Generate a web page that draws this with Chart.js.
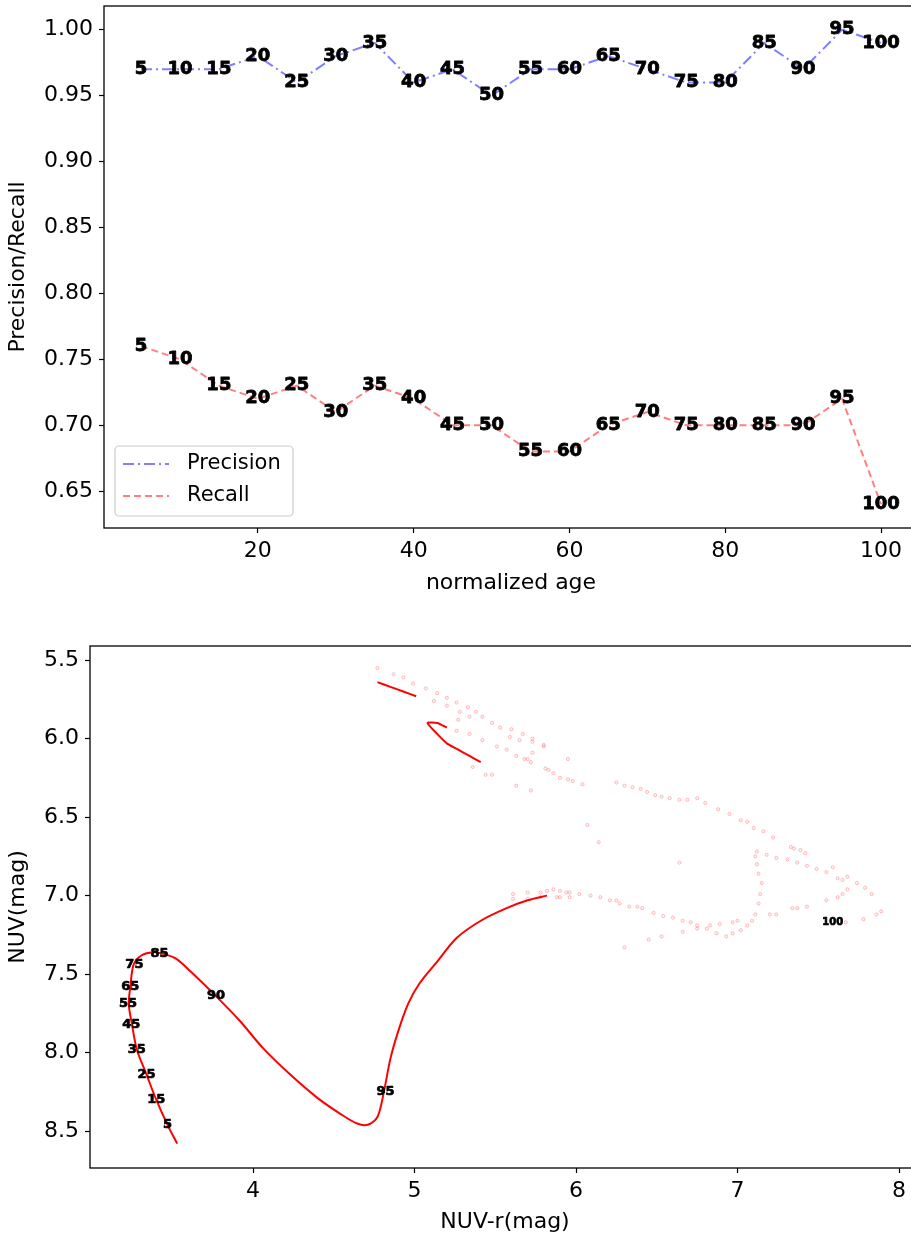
<!DOCTYPE html>
<html>
<head>
<meta charset="utf-8">
<script src="https://cdn.jsdelivr.net/npm/chart.js@4.4.0/dist/chart.umd.min.js"></script>
<style>
body { margin: 0; background: #fff; overflow: hidden; }
.wrap { position: absolute; left: 0; width: 911px; overflow: hidden; }
</style>
</head>
<body>
<div class="wrap" style="top:0;height:600px"><canvas id="prChart" width="930" height="600"></canvas></div>
<div class="wrap" style="top:620px;height:616px"><canvas id="cmdChart" width="930" height="616"></canvas></div>
<script>
"use strict";

// top panel: precision / recall per normalized age
var ages = [5, 10, 15, 20, 25, 30, 35, 40, 45, 50, 55, 60, 65, 70, 75, 80, 85, 90, 95, 100];
var precision = [0.97, 0.97, 0.97, 0.98, 0.96, 0.98, 0.99, 0.96, 0.97, 0.95, 0.97, 0.97, 0.98, 0.97, 0.96, 0.96, 0.99, 0.97, 1.00, 0.99];
var recall = [0.76, 0.75, 0.73, 0.72, 0.73, 0.71, 0.73, 0.72, 0.70, 0.70, 0.68, 0.68, 0.70, 0.71, 0.70, 0.70, 0.70, 0.70, 0.72, 0.64];
var ageTicks = [20, 40, 60, 80, 100];
var prTicks = [0.65, 0.70, 0.75, 0.80, 0.85, 0.90, 0.95, 1.00];

// bottom panel: track in NUV-r / NUV
var trackX = [3.53, 3.47, 3.40, 3.34, 3.28, 3.25, 3.23, 3.24, 3.26, 3.31, 3.38, 3.44, 3.52, 3.61, 3.77, 3.92, 4.06, 4.23, 4.40, 4.54, 4.64, 4.71, 4.77, 4.81, 4.85, 4.90, 4.96, 5.03, 5.14, 5.26, 5.41, 5.57, 5.70, 5.82];
var trackY = [8.58, 8.46, 8.30, 8.14, 7.98, 7.82, 7.69, 7.58, 7.44, 7.38, 7.36, 7.37, 7.40, 7.48, 7.64, 7.80, 7.97, 8.14, 8.29, 8.39, 8.45, 8.46, 8.41, 8.25, 8.04, 7.86, 7.69, 7.56, 7.42, 7.27, 7.16, 7.08, 7.03, 7.00];
var topSegX = [4.77, 4.85, 4.93, 5.01];
var topSegY = [5.64, 5.67, 5.70, 5.73];
var loopX = [5.20, 5.14, 5.08, 5.14, 5.20, 5.27, 5.34, 5.41];
var loopY = [5.93, 5.90, 5.90, 5.97, 6.03, 6.07, 6.11, 6.15];
var fieldX = [4.77, 4.87, 4.93, 4.99, 5.07, 5.14, 5.20, 5.26, 5.33, 5.38, 5.42, 5.48, 5.53, 5.60, 5.67, 5.73, 5.80,
  5.12, 5.20, 5.28, 5.34, 5.59, 5.65, 5.73, 5.80, 5.73, 5.63, 5.68, 5.72, 5.95, 5.81, 5.83, 5.44, 5.48, 5.63, 5.72, 6.07, 6.14, 6.64, 5.27, 5.36,
  5.26, 5.34, 5.42, 5.51, 5.57, 5.70, 5.86, 5.90, 5.95, 5.98, 6.04,
  6.25, 6.30, 6.35, 6.40, 6.44, 6.49, 6.53, 6.58, 6.64, 6.69, 6.75, 6.80, 6.88, 6.95, 7.02, 7.06, 7.10, 7.16, 7.22, 7.33, 7.35, 7.39, 7.42, 7.59, 7.68, 7.74, 7.79, 7.83, 7.89, 7.86, 7.78, 7.67,
  5.78, 5.82, 5.90, 5.96, 5.90, 5.96, 6.02, 6.09, 6.15, 6.21, 6.27, 6.33, 6.38, 6.41, 6.48, 6.54, 6.60, 6.66, 6.71, 6.75, 6.81, 6.87, 6.93,
  6.97, 7.02, 7.06, 7.09, 7.11, 7.13, 7.14, 7.15, 7.13, 7.12, 7.11, 7.12,
  7.18, 7.24, 7.31, 7.37, 7.43, 7.49, 7.55, 7.62, 7.65, 7.68, 7.65, 7.62, 7.55, 7.43, 7.37, 7.34, 7.24, 7.20, 7.00, 6.97, 6.89, 6.83, 6.75, 6.66, 6.53, 6.45, 6.30,
  5.61, 5.70, 5.86, 5.94, 6.25, 5.61, 5.70, 5.78, 5.88];
var fieldY = [5.55, 5.59, 5.61, 5.65, 5.68, 5.71, 5.74, 5.77, 5.80, 5.83, 5.86, 5.90, 5.93, 5.94, 5.97, 6.00, 6.04,
  5.76, 5.79, 5.83, 5.86, 5.99, 6.01, 6.02, 6.05, 6.09, 6.11, 6.13, 6.15, 6.13, 6.19, 6.20, 6.23, 6.23, 6.30, 6.33, 6.55, 6.66, 6.79, 5.88, 6.18,
  5.95, 5.97, 6.01, 6.05, 6.07, 6.13, 6.22, 6.25, 6.26, 6.27, 6.29,
  6.28, 6.30, 6.31, 6.32, 6.34, 6.36, 6.37, 6.38, 6.39, 6.39, 6.38, 6.41, 6.45, 6.48, 6.52, 6.53, 6.57, 6.59, 6.63, 6.69, 6.70, 6.71, 6.73, 6.82, 6.88, 6.92, 6.95, 6.99, 7.10, 7.12, 7.15, 7.17,
  6.98, 6.97, 6.97, 6.98, 7.01, 7.01, 6.99, 7.00, 7.01, 7.03, 7.05, 7.07, 7.07, 7.08, 7.11, 7.13, 7.14, 7.16, 7.17, 7.19, 7.21, 7.24, 7.26,
  7.24, 7.22, 7.19, 7.16, 7.12, 7.05, 6.99, 6.92, 6.86, 6.80, 6.75, 6.72,
  6.74, 6.76, 6.77, 6.79, 6.81, 6.83, 6.85, 6.89, 6.90, 6.96, 6.99, 7.01, 7.03, 7.07, 7.08, 7.08, 7.12, 7.12, 7.16, 7.17, 7.18, 7.19, 7.21, 7.23, 7.26, 7.28, 7.33,
  6.99, 6.98, 6.96, 6.98, 7.03, 7.02, 7.02, 7.01, 7.01];
var markX = [3.47, 3.40, 3.34, 3.28, 3.245, 3.225, 3.24, 3.265, 3.42, 3.77, 4.82, 7.59];
var markY = [8.46, 8.30, 8.14, 7.98, 7.82, 7.69, 7.58, 7.44, 7.37, 7.64, 8.25, 7.17];
var markText = ['5', '15', '25', '35', '45', '55', '65', '75', '85', '90', '95', '100'];
var nuvRTicks = [4, 5, 6, 7, 8];
var nuvTicks = [5.5, 6.0, 6.5, 7.0, 7.5, 8.0, 8.5];

Chart.defaults.font.family = '"DejaVu Sans"';
Chart.defaults.font.size = 22;
Chart.defaults.color = '#000';

var toPoints = function (xs, ys) {
  return xs.map(function (x, i) { return { x: x, y: ys[i] }; });
};
var fixedTicks = function (list) {
  return function (scale) {
    scale.ticks = list.map(function (v) { return { value: v }; });
  };
};

var framePlugin = {
  id: 'frame',
  afterDraw: function (chart) {
    var a = chart.chartArea, ctx = chart.ctx;
    ctx.save();
    ctx.strokeStyle = '#000';
    ctx.lineWidth = 1.3;
    ctx.strokeRect(a.left, a.top, a.right - a.left, a.bottom - a.top);
    ctx.restore();
  }
};

var pointTextPlugin = {
  id: 'pointText',
  afterDatasetsDraw: function (chart, args, opts) {
    var ctx = chart.ctx;
    chart.data.datasets.forEach(function (ds, i) {
      if (!ds.pointText) return;
      chart.getDatasetMeta(i).data.forEach(function (pt, j) {
        var txt = ds.pointText[j];
        var size = txt.length > 2 && opts.size3 ? opts.size3 : opts.size;
        ctx.save();
        ctx.font = 'bold ' + size + 'px "DejaVu Sans"';
        ctx.fillStyle = '#000';
        ctx.strokeStyle = '#000';
        ctx.lineWidth = opts.stroke;
        ctx.lineJoin = 'round';
        ctx.textAlign = 'center';
        ctx.textBaseline = 'middle';
        ctx.strokeText(txt, pt.x, pt.y);
        ctx.fillText(txt, pt.x, pt.y);
        ctx.restore();
      });
    });
  }
};

var legendPlugin = {
  id: 'boxLegend',
  afterDraw: function (chart) {
    var a = chart.chartArea, ctx = chart.ctx;
    var x = a.left + 11, y = a.bottom - 82, w = 178, h = 70;
    ctx.save();
    ctx.beginPath();
    ctx.roundRect(x, y, w, h, 4);
    ctx.fillStyle = 'rgba(255,255,255,0.8)';
    ctx.fill();
    ctx.strokeStyle = '#cccccc';
    ctx.lineWidth = 1.2;
    ctx.stroke();
    chart.data.datasets.forEach(function (ds, i) {
      var ly = y + 18 + i * 32;
      ctx.beginPath();
      ctx.setLineDash(ds.borderDash);
      ctx.strokeStyle = ds.borderColor;
      ctx.lineWidth = ds.borderWidth;
      ctx.moveTo(x + 8, ly);
      ctx.lineTo(x + 54, ly);
      ctx.stroke();
      ctx.setLineDash([]);
      ctx.fillStyle = '#000';
      ctx.font = '21px "DejaVu Sans"';
      ctx.textAlign = 'left';
      ctx.textBaseline = 'middle';
      ctx.fillText(ds.label, x + 72, ly);
    });
    ctx.restore();
  }
};

var axisStyle = function (width, height) {
  return {
    border: { display: false },
    grid: { drawOnChartArea: false, drawTicks: true, tickLength: 5, tickColor: '#000', tickWidth: 1.2 },
    afterFit: function (scale) {
      if (width) scale.width = width;
      if (height) scale.height = height;
      // don't reserve room for overhanging tick labels
      scale.paddingTop = 0;
      scale.paddingBottom = 0;
      scale.paddingLeft = 0;
      scale.paddingRight = 0;
    }
  };
};

// precision / recall
var xTop = axisStyle(0, 72);
xTop.type = 'linear';
xTop.min = 0.25;
xTop.max = 104.75;
xTop.afterBuildTicks = fixedTicks(ageTicks);
xTop.ticks = { padding: 5, maxRotation: 0 };
xTop.title = { display: true, text: 'normalized age', padding: { top: 0, bottom: 4 } };

var yTop = axisStyle(104, 0);
yTop.min = 0.622;
yTop.max = 1.018;
yTop.afterBuildTicks = fixedTicks(prTicks);
yTop.ticks = { padding: 6, callback: function (v) { return v.toFixed(2); } };
yTop.title = { display: true, text: 'Precision/Recall', padding: { top: 5, bottom: 0 } };

new Chart(document.getElementById('prChart'), {
  type: 'line',
  data: {
    datasets: [{
      label: 'Precision',
      data: toPoints(ages, precision),
      pointText: ages.map(String),
      borderColor: 'rgba(0,0,255,0.5)',
      borderDash: [11, 4, 2, 4],
      borderWidth: 2,
      pointRadius: 0,
      fill: false
    }, {
      label: 'Recall',
      data: toPoints(ages, recall),
      pointText: ages.map(String),
      borderColor: 'rgba(255,0,0,0.5)',
      borderDash: [7, 4],
      borderWidth: 2,
      pointRadius: 0,
      fill: false
    }]
  },
  options: {
    responsive: false,
    animation: false,
    layout: { padding: { top: 6, right: 12, left: 0, bottom: 0 } },
    scales: { x: xTop, y: yTop },
    plugins: { legend: { display: false }, tooltip: { enabled: false }, pointText: { size: 18, stroke: 0.8 } }
  },
  plugins: [framePlugin, pointTextPlugin, legendPlugin]
});

// colour-magnitude track
var xBot = axisStyle(0, 68);
xBot.type = 'linear';
xBot.min = 2.99;
xBot.max = 8.13;
xBot.afterBuildTicks = fixedTicks(nuvRTicks);
xBot.ticks = { padding: 5, maxRotation: 0 };
xBot.title = { display: true, text: 'NUV-r(mag)', padding: { top: 0, bottom: 1 } };

var yBot = axisStyle(90, 0);
yBot.reverse = true;
yBot.min = 5.41;
yBot.max = 8.735;
yBot.afterBuildTicks = fixedTicks(nuvTicks);
yBot.ticks = { padding: 6, callback: function (v) { return v.toFixed(1); } };
yBot.title = { display: true, text: 'NUV(mag)', padding: { top: 5, bottom: 0 } };

new Chart(document.getElementById('cmdChart'), {
  type: 'scatter',
  data: {
    datasets: [{
      data: toPoints(fieldX, fieldY),
      pointRadius: 1.6,
      pointBorderWidth: 0.8,
      pointBorderColor: 'rgba(255,0,0,0.3)',
      pointBackgroundColor: 'rgba(255,0,0,0.05)',
      showLine: false
    }, {
      data: toPoints(trackX, trackY),
      showLine: true,
      tension: 0.3,
      borderColor: '#ff0000',
      borderWidth: 2,
      pointRadius: 0
    }, {
      data: toPoints(topSegX, topSegY),
      showLine: true,
      tension: 0.3,
      borderColor: '#ff0000',
      borderWidth: 2,
      pointRadius: 0
    }, {
      data: toPoints(loopX, loopY),
      showLine: true,
      tension: 0.2,
      borderColor: '#ff0000',
      borderWidth: 2,
      pointRadius: 0
    }, {
      data: toPoints(markX, markY),
      pointText: markText,
      pointRadius: 0,
      showLine: false
    }]
  },
  options: {
    responsive: false,
    animation: false,
    layout: { padding: { top: 26, right: 10, left: 0, bottom: 0 } },
    scales: { x: xBot, y: yBot },
    plugins: { legend: { display: false }, tooltip: { enabled: false }, pointText: { size: 13, size3: 10, stroke: 0.7 } }
  },
  plugins: [framePlugin, pointTextPlugin]
});
</script>
</body>
</html>
